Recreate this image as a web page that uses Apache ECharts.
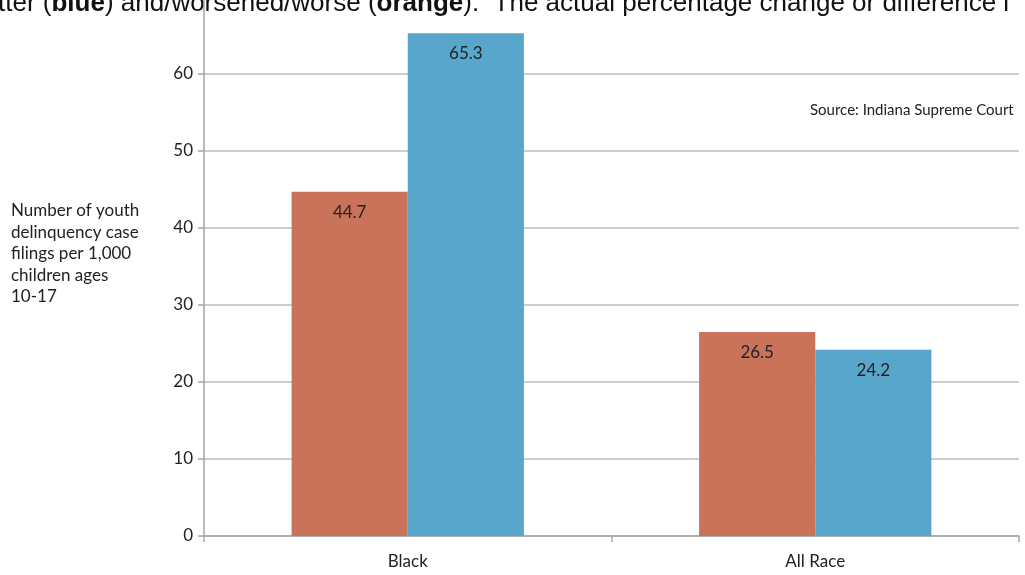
<!DOCTYPE html>
<html>
<head>
<meta charset="utf-8">
<script src="https://cdn.jsdelivr.net/npm/echarts@6/dist/echarts.min.js"></script>
<style>
  html, body { margin: 0; padding: 0; background: #fff; }
  #chart { width: 1025px; height: 575px; }
</style>
</head>
<body>
<div id="chart"></div>
<script>
  // data
  const categories = ['Black', 'All Race'];
  const orangeValues = [44.7, 26.5];
  const blueValues = [65.3, 24.2];
  const yTicks = { min: 0, max: 70, interval: 10 };

  const myChart = echarts.init(document.getElementById('chart'));
  const font = 'Lato, "Open Sans", sans-serif';

  const barLabel = {
    show: true,
    position: 'insideTop',
    distance: 12,
    color: '#222',
    fontSize: 17,
    fontFamily: font,
    formatter: p => p.value.toFixed(1)
  };

  const option = {
    animation: false,
    backgroundColor: '#fff',
    grid: { left: 204, right: 6, top: -3, bottom: 39, outerBoundsMode: 'none', containLabel: false },
    xAxis: {
      type: 'category',
      data: categories,
      axisLine: { show: true, lineStyle: { color: '#a6a6a6', width: 1.5 } },
      axisTick: { show: true, length: 6, lineStyle: { color: '#a6a6a6', width: 1.5 } },
      axisLabel: { color: '#222', fontSize: 17, fontFamily: font, margin: 17 }
    },
    yAxis: {
      type: 'value',
      min: yTicks.min,
      max: yTicks.max,
      interval: yTicks.interval,
      axisLine: { show: true, lineStyle: { color: '#a6a6a6', width: 1.5 } },
      axisTick: { show: true, length: 6, lineStyle: { color: '#a6a6a6', width: 1.5 } },
      splitLine: { show: true, lineStyle: { color: '#bdbdbd', width: 1.5 } },
      axisLabel: { color: '#222', fontSize: 17, fontFamily: font, margin: 11, showMaxLabel: false }
    },
    series: [
      {
        type: 'bar',
        data: orangeValues,
        barWidth: '28.5%',
        barGap: '0%',
        itemStyle: { color: '#c8735a' },
        label: barLabel
      },
      {
        type: 'bar',
        data: blueValues,
        barWidth: '28.5%',
        barGap: '0%',
        itemStyle: { color: '#59a6cb' },
        label: barLabel
      }
    ],
    graphic: [
      {
        // cropped line of the page text above the chart
        type: 'text',
        left: -2,
        top: -9,
        style: {
          text: '{n|tter (}{b|blue}{n|) and/worsened/worse (}{b|orange}{n|).  The actual percentage change or difference i}',
          rich: {
            n: { fontSize: 26, fontFamily: '"Liberation Sans", Arial, sans-serif', fill: '#111' },
            b: { fontSize: 26, fontWeight: 'bold', fontFamily: '"Liberation Sans", Arial, sans-serif', fill: '#111' }
          }
        }
      },
      {
        type: 'text',
        left: 810,
        top: 103,
        style: {
          text: 'Source: Indiana Supreme Court',
          fontSize: 15,
          fontFamily: font,
          fill: '#222'
        }
      },
      {
        type: 'text',
        left: 11,
        top: 200,
        style: {
          text: 'Number of youth\ndelinquency case\nfilings per 1,000\nchildren ages\n10-17',
          fontSize: 17,
          lineHeight: 21.5,
          fontFamily: font,
          fill: '#222'
        }
      }
    ]
  };

  myChart.setOption(option);
</script>
</body>
</html>
